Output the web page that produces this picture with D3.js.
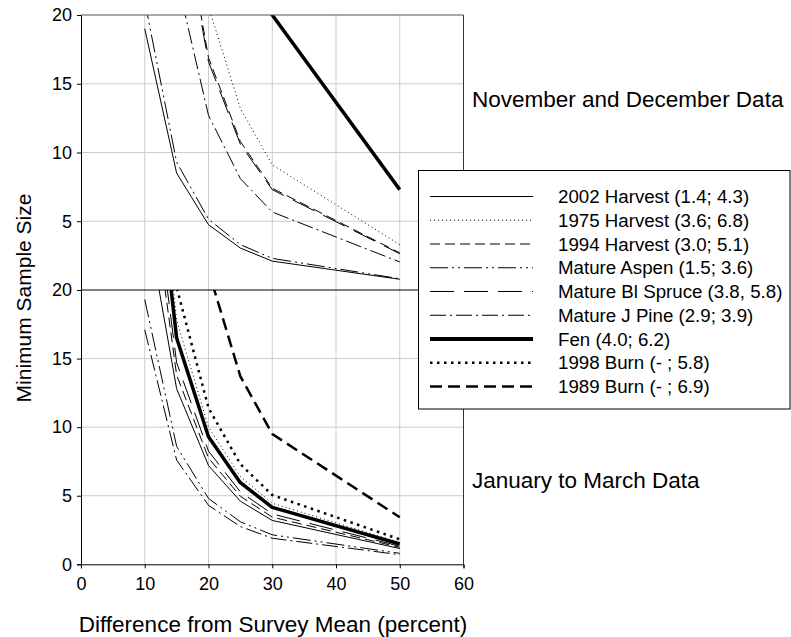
<!DOCTYPE html>
<html>
<head>
<meta charset="utf-8">
<script src="https://cdn.jsdelivr.net/npm/d3@7"></script>
<style>
  html, body { margin: 0; padding: 0; background: #fff; }
  svg { display: block; font-family: "Liberation Sans", Arial, sans-serif; }
</style>
</head>
<body>
<svg id="chart" width="791" height="637"></svg>
<script>
// ---------- DATA ----------
const xValues = [10, 15, 20, 25, 30, 50];
const xTicks = [0, 10, 20, 30, 40, 50, 60];
const yTicksTop = [5, 10, 15, 20];
const yTicksBottom = [0, 5, 10, 15, 20];

const seriesNames = [
  "2002 Harvest (1.4; 4.3)",
  "1975 Harvest (3.6; 6.8)",
  "1994 Harvest (3.0; 5.1)",
  "Mature Aspen (1.5; 3.6)",
  "Mature Bl Spruce (3.8, 5.8)",
  "Mature J Pine (2.9; 3.9)",
  "Fen (4.0; 6.2)",
  "1998 Burn (- ; 5.8)",
  "1989 Burn (- ; 6.9)"
];

// November and December (top panel)
const nd2002Harvest = [19.0, 8.5, 4.75, 3.05, 2.1, 0.78];
const nd1975Harvest = [82, 36.7, 20.6, 13.2, 9.1, 3.3];
const nd1994Harvest = [67, 30, 16.9, 10.8, 7.4, 2.7];
const ndMatureAspen = [21, 9.3, 5.15, 3.3, 2.3, 0.82];
const ndMatureBlSpruce = [66, 29.3, 16.6, 10.6, 7.3, 2.64];
const ndMatureJPine = [51, 22.7, 12.7, 8.1, 5.67, 2.04];
const ndFen = [180, 80, 45, 28.8, 20, 7.3];

// January to March (bottom panel)
const jm2002Harvest = [25.9, 12.8, 7.2, 4.6, 3.2, 1.15];
const jm1975Harvest = [40, 17.8, 10.0, 6.4, 4.45, 1.6];
const jm1994Harvest = [31, 13.8, 7.75, 4.96, 3.44, 1.24];
const jmMatureAspen = [19.3, 8.6, 4.8, 3.1, 2.15, 0.8];
const jmMatureBlSpruce = [33, 14.7, 8.25, 5.28, 3.67, 1.32];
const jmMatureJPine = [17.1, 7.6, 4.3, 2.75, 1.9, 0.7];
const jmFen = [37, 16.5, 9.3, 5.95, 4.15, 1.48];
const jm1998Burn = [45.5, 20.2, 11.4, 7.3, 5.05, 1.82];
const jm1989Burn = [85.8, 38.1, 21.4, 13.7, 9.5, 3.43];

// ---------- STYLES ----------
const styles = [
  { w: 1, dash: null },
  { w: 1, dash: "1,3" },
  { w: 1, dash: "10,5" },
  { w: 1, dash: "18,4,2,4,2,4" },
  { w: 1, dash: "24,10" },
  { w: 1, dash: "16,4,2,4" },
  { w: 3.5, dash: null },
  { w: 2.5, dash: "2.5,4.5" },
  { w: 2.5, dash: "12,6" }
];

const topSeries = [nd2002Harvest, nd1975Harvest, nd1994Harvest, ndMatureAspen,
  ndMatureBlSpruce, ndMatureJPine, ndFen, null, null];
const bottomSeries = [jm2002Harvest, jm1975Harvest, jm1994Harvest, jmMatureAspen,
  jmMatureBlSpruce, jmMatureJPine, jmFen, jm1998Burn, jm1989Burn];

// ---------- LAYOUT ----------
const svg = d3.select("#chart");
const left = 81, right = 463.5;
const x = d3.scaleLinear().domain([0, 60]).range([left, right]);
const yTop = d3.scaleLinear().domain([0, 20]).range([290, 15]);
const yBot = d3.scaleLinear().domain([0, 20]).range([564.3, 290]);

const defs = svg.append("defs");
function clip(id, y) {
  defs.append("clipPath").attr("id", id).append("rect")
    .attr("x", left).attr("y", y.range()[1])
    .attr("width", right - left).attr("height", y.range()[0] - y.range()[1]);
}
clip("clipTop", yTop);
clip("clipBot", yBot);

function panel(y, data, clipId, ticks) {
  const g = svg.append("g");
  g.selectAll("line.vg").data(xTicks.filter(t => t > 0 && t < 60)).enter()
    .append("line").attr("x1", d => x(d)).attr("x2", d => x(d))
    .attr("y1", y.range()[1]).attr("y2", y.range()[0])
    .attr("stroke", "#cccccc").attr("stroke-width", 1);
  g.selectAll("line.hg").data([5, 10, 15]).enter()
    .append("line").attr("x1", left).attr("x2", right)
    .attr("y1", d => y(d)).attr("y2", d => y(d))
    .attr("stroke", "#cccccc").attr("stroke-width", 1);

  const line = d3.line().x((d, i) => x(xValues[i])).y(d => y(d));
  const lg = g.append("g").attr("clip-path", `url(#${clipId})`);
  data.forEach((s, i) => {
    if (!s) return;
    lg.append("path").datum(s).attr("d", line)
      .attr("fill", "none").attr("stroke", "#000")
      .attr("stroke-width", styles[i].w)
      .attr("stroke-dasharray", styles[i].dash)
      .attr("stroke-linejoin", "round");
  });

  const ax = d3.axisLeft(y).tickValues(ticks).tickSize(4).tickFormat(d3.format("d"));
  const ag = g.append("g").attr("transform", `translate(${left},0)`).call(ax);
  ag.select(".domain").attr("stroke", "#000");
  ag.selectAll("text").attr("font-size", 18).attr("fill", "#000")
    .attr("font-family", "Liberation Sans, Arial, sans-serif").attr("x", -9);
  return g;
}

panel(yTop, topSeries, "clipTop", yTicksTop);
panel(yBot, bottomSeries, "clipBot", yTicksBottom);

// borders
svg.append("line").attr("x1", left).attr("x2", right).attr("y1", 15).attr("y2", 15)
  .attr("stroke", "#555").attr("stroke-width", 1);
svg.append("line").attr("x1", right).attr("x2", right).attr("y1", 15).attr("y2", 564.3)
  .attr("stroke", "#333").attr("stroke-width", 1);
svg.append("line").attr("x1", left).attr("x2", right).attr("y1", 290).attr("y2", 290)
  .attr("stroke", "#000").attr("stroke-width", 1);

// x axis
const xa = svg.append("g").attr("transform", "translate(0,564.3)")
  .call(d3.axisBottom(x).tickValues(xTicks).tickSize(4).tickFormat(d3.format("d")));
xa.select(".domain").attr("stroke", "#000");
xa.selectAll("text").attr("font-size", 18).attr("fill", "#000")
  .attr("font-family", "Liberation Sans, Arial, sans-serif").attr("y", 13);

// axis titles
svg.append("text").attr("x", 273).attr("y", 632).attr("text-anchor", "middle")
  .attr("font-size", 22.5).text("Difference from Survey Mean (percent)");
svg.append("text").attr("transform", "translate(31,298) rotate(-90)")
  .attr("text-anchor", "middle").attr("font-size", 21).text("Minimum Sample Size");

// panel labels
svg.append("text").attr("x", 472).attr("y", 107).attr("font-size", 22.5)
  .text("November and December Data");
svg.append("text").attr("x", 472).attr("y", 488).attr("font-size", 22.5)
  .text("January to March Data");

// legend
const lgd = svg.append("g");
lgd.append("rect").attr("x", 418.5).attr("y", 170.5).attr("width", 371.5).attr("height", 238.5)
  .attr("fill", "#fff").attr("stroke", "#000").attr("stroke-width", 1);
const rowY = d3.scaleLinear().domain([0, 8]).range([196.5, 386.5]);
seriesNames.forEach((name, i) => {
  lgd.append("line").attr("x1", 430).attr("x2", 533)
    .attr("y1", rowY(i)).attr("y2", rowY(i))
    .attr("stroke", "#000").attr("stroke-width", i === 6 ? 4 : styles[i].w)
    .attr("stroke-dasharray", styles[i].dash);
  lgd.append("text").attr("x", 558).attr("y", rowY(i) + 6.5)
    .attr("font-size", 18.7).text(name);
});
</script>
</body>
</html>
